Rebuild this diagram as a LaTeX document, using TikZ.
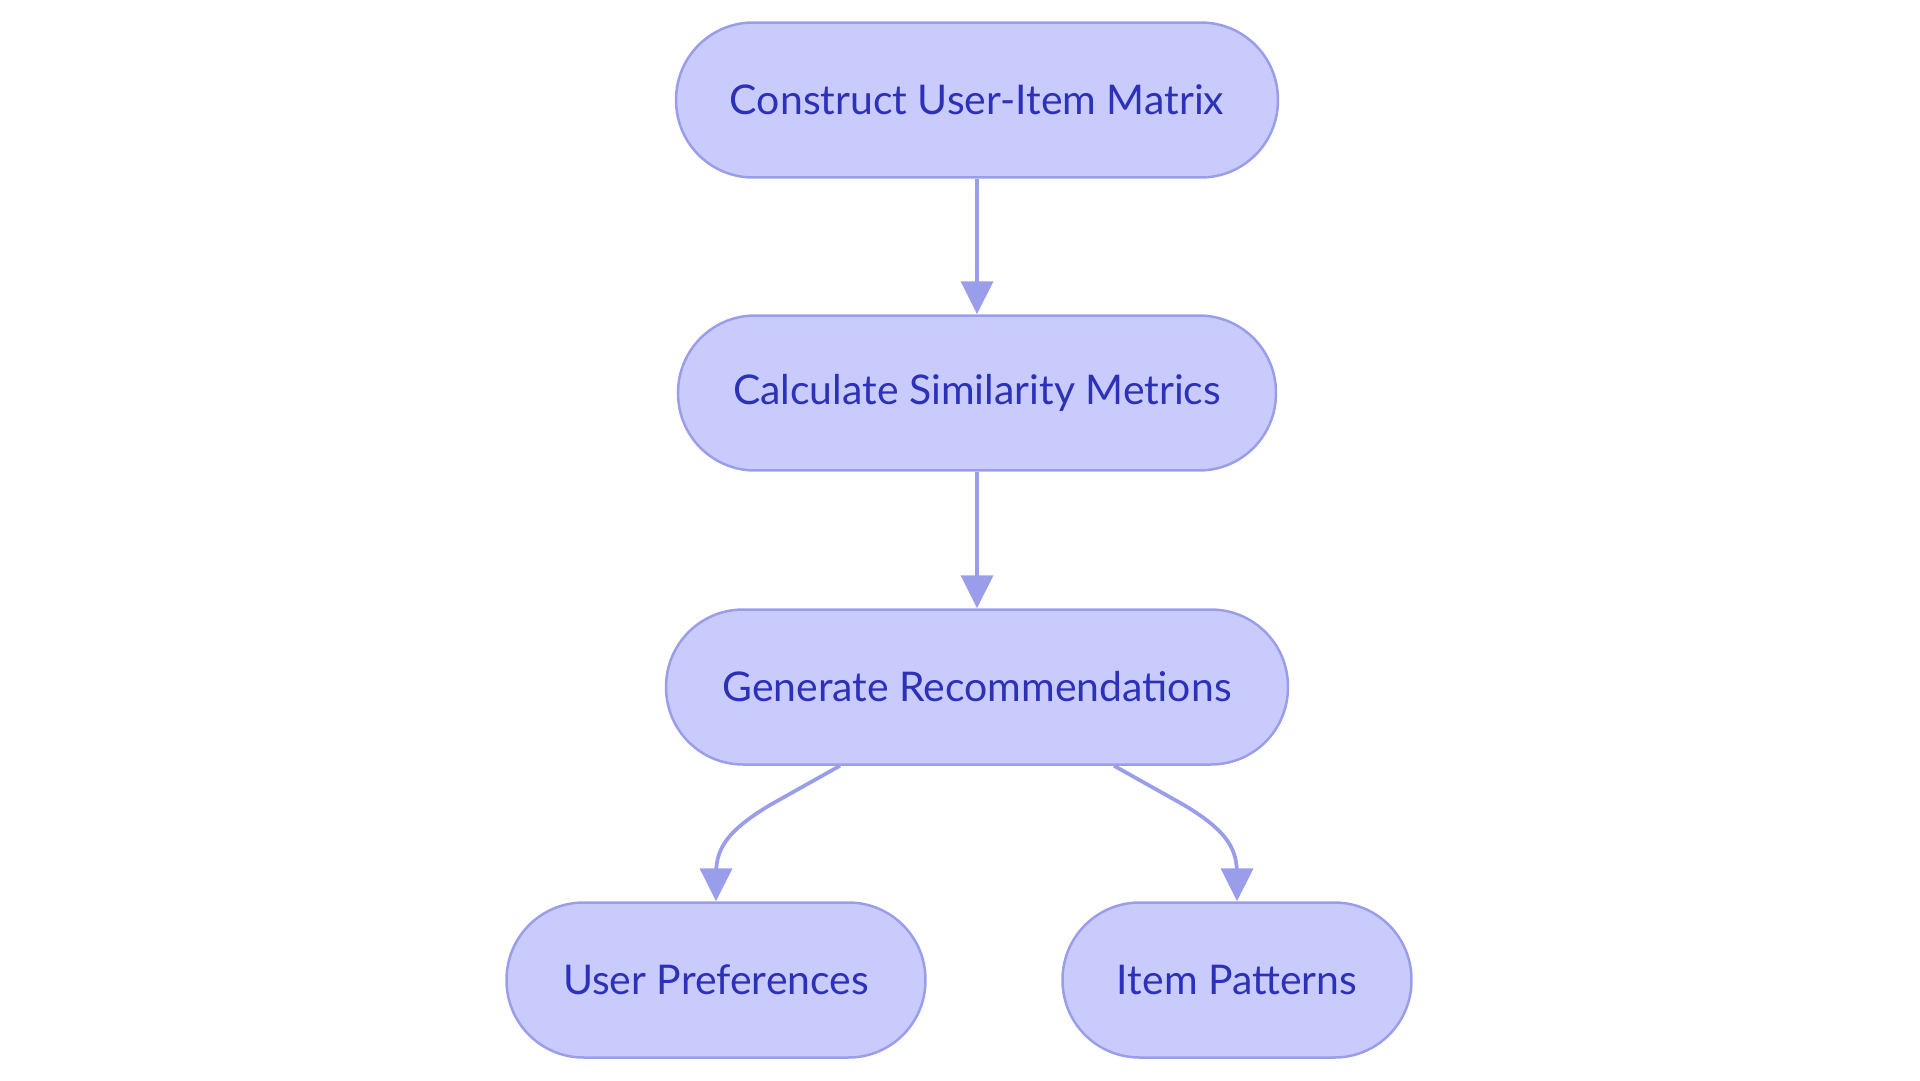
\documentclass[tikz,border=0pt]{standalone}
\usepackage{fontspec}
\setmainfont{Lato}
\usetikzlibrary{arrows.meta,calc}
\definecolor{nfill}{HTML}{C9CBFD}
\definecolor{nline}{HTML}{9A9EEA}
\definecolor{ntext}{HTML}{2C31B9}
\begin{document}
\begin{tikzpicture}[x=0.02cm,y=-0.02cm,
  box/.style={draw=nline, fill=nfill, line width=0.05cm, rounded corners=1.54cm,
    minimum height=3.1cm, inner sep=0pt, text=ntext,
    font=\fontsize{23.3}{27}\selectfont},
  arr/.style={draw=nline, line width=0.075cm,
    -{Triangle[length=0.66cm,width=0.64cm]}}]
\useasboundingbox (0,0) rectangle (1920,1080);
\node[box, minimum width=12.04cm] (n1) at (977,100) {Construct User-Item Matrix};
\node[box, minimum width=11.96cm] (n2) at (977,393) {Calculate Similarity Metrics};
\node[box, minimum width=12.44cm] (n3) at (977,687) {Generate Recommendations};
\node[box, minimum width=8.38cm] (n4) at (716,980) {User Preferences};
\node[box, minimum width=6.98cm] (n5) at (1237,980) {Item Patterns};
\draw[arr] (n1) -- (n2);
\draw[arr] (n2) -- (n3);
\coordinate (s4) at ($(n3.south)+(-137,0)$);
\coordinate (s5) at ($(n3.south)+(137,0)$);
\draw[arr] (s4) -- (770,805) .. controls (725,832) and (716,850) .. (716,875) -- (n4.north);
\draw[arr] (s5) -- (1184,805) .. controls (1229,832) and (1237,850) .. (1237,875) -- (n5.north);
\end{tikzpicture}
\end{document}
